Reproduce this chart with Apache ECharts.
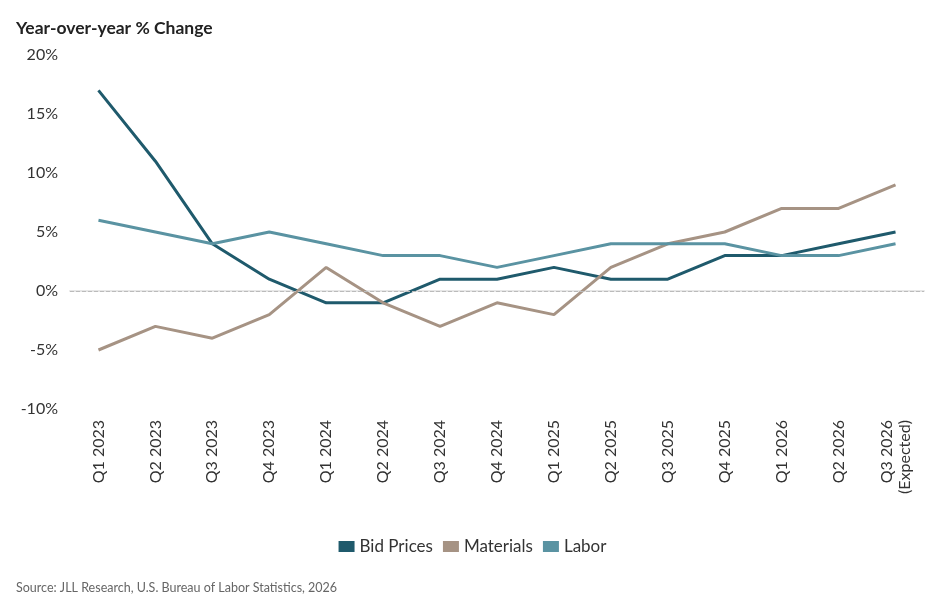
<!DOCTYPE html>
<html>
<head>
<meta charset="utf-8">
<script src="https://cdn.jsdelivr.net/npm/echarts@6/dist/echarts.min.js"></script>
<style>
  html, body { margin: 0; padding: 0; background: #fff; }
  #main { width: 945px; height: 606px; }
</style>
</head>
<body>
<div id="main"></div>
<script>
var quarters = ['Q1 2023', 'Q2 2023', 'Q3 2023', 'Q4 2023', 'Q1 2024', 'Q2 2024', 'Q3 2024',
    'Q4 2024', 'Q1 2025', 'Q2 2025', 'Q3 2025', 'Q4 2025', 'Q1 2026', 'Q2 2026', 'Q3 2026\n(Expected)'];
var bidPrices = [17, 11, 4, 1, -1, -1, 1, 1, 2, 1, 1, 3, 3, 4, 5];
var materials = [-5, -3, -4, -2, 2, -1, -3, -1, -2, 2, 4, 5, 7, 7, 9];
var labor = [6, 5, 4, 5, 4, 3, 3, 2, 3, 4, 4, 4, 3, 3, 4];

var font = 'Lato, "Noto Sans", sans-serif';

function lineSeries(name, data, color) {
    return {
        name: name,
        type: 'line',
        data: data,
        symbol: 'none',
        lineStyle: { width: 3, color: color },
        itemStyle: { color: color }
    };
}

var myChart = echarts.init(document.getElementById('main'));
var option = {
    title: [{
        text: 'Year-over-year % Change',
        left: 11, top: 14,
        textStyle: { fontFamily: font, fontSize: 17.5, fontWeight: 'bold', color: '#222' }
    }, {
        text: 'Source: JLL Research, U.S. Bureau of Labor Statistics, 2026',
        left: 11, top: 576,
        textStyle: { fontFamily: font, fontSize: 12.5, fontWeight: 'normal', color: '#666' }
    }],
    legend: {
        bottom: 46,
        left: 'center',
        itemWidth: 16, itemHeight: 11,
        itemGap: 10,
        icon: 'rect',
        textStyle: { fontFamily: font, fontSize: 17, color: '#333' }
    },
    grid: { left: 70, right: 21, top: 55, bottom: 197 },
    xAxis: {
        type: 'category',
        data: quarters,
        boundaryGap: true,
        axisLine: { show: true, lineStyle: { color: '#e6e6e6', width: 2 } },
        axisTick: { show: false },
        axisLabel: {
            rotate: 90, interval: 0, margin: 11,
            fontFamily: font, fontSize: 16, color: '#333', lineHeight: 18
        }
    },
    yAxis: {
        type: 'value',
        min: -10, max: 20, interval: 5,
        axisLine: { show: false },
        axisTick: { show: false },
        splitLine: { show: false },
        axisLabel: {
            formatter: '{value}%', margin: 12,
            fontFamily: font, fontSize: 16, color: '#333'
        }
    },
    series: [
        lineSeries('Bid Prices', bidPrices, '#1f5a6c'),
        lineSeries('Materials', materials, '#a69384'),
        lineSeries('Labor', labor, '#5a93a2')
    ]
};
option.series[0].markLine = {
    silent: true, symbol: 'none', label: { show: false },
    lineStyle: { type: 'dashed', color: '#bbb', width: 1 },
    data: [{ yAxis: 0 }]
};
myChart.setOption(option);
</script>
</body>
</html>
